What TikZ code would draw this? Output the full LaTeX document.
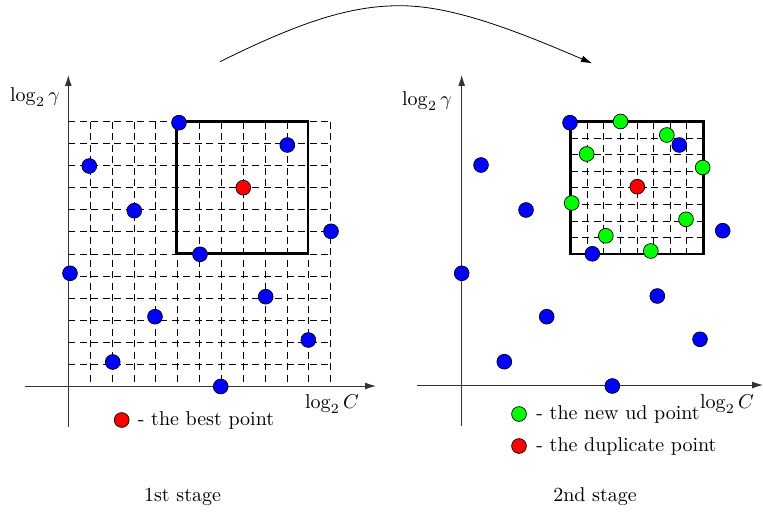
\documentclass[tikz,border=0pt]{standalone}
\usetikzlibrary{arrows.meta}
\begin{document}
\begin{tikzpicture}[x=0.5pt,y=-0.5pt,
  dot/.style={circle,draw=black,line width=0.35pt,minimum size=7.4pt,inner sep=0pt},
  bluedot/.style={dot,fill=blue},
  reddot/.style={dot,fill=red},
  greendot/.style={dot,fill=green},
  gridline/.style={line width=0.38pt,dash pattern=on 3.5pt off 2.25pt},
  axis/.style={line width=0.45pt,black!80,-{Latex[length=5.5pt,width=3.5pt]}},
  frame/.style={line width=1.3pt,line join=miter},
  lbl/.style={inner sep=0pt}]
\useasboundingbox (0,0) rectangle (763,513);

% ---------- first stage: full 12x12 grid ----------
\foreach \i in {1,...,12}
  \draw[gridline] ({68.3+21.87*\i},121.7) -- ({68.3+21.87*\i},386);
\foreach \j in {0,...,11}
  \draw[gridline] (68.3,{121.7+22.03*\j}) -- (330.7,{121.7+22.03*\j});
\draw[frame] (176.7,121.7) rectangle (307.9,253.5);

\coordinate (Lyb) at (68.3,427);
\coordinate (Lyt) at (68.3,75);
\coordinate (Lxl) at (25,386);
\coordinate (Lxr) at (376,386);
\draw[axis] (Lyb) -- (Lyt);
\draw[axis] (Lxl) -- (Lxr);

\node[lbl] (Lgam) at (35,97) {$\log_2\gamma$};
\node[lbl] (LC) at (332,404) {$\log_2 C$};

\node[bluedot] (a1)  at (179,122.7) {};
\node[bluedot] (a2)  at (287.3,145) {};
\node[bluedot] (a3)  at (89.3,166) {};
\node[bluedot] (a4)  at (134.3,210.7) {};
\node[bluedot] (a5)  at (331,231.3) {};
\node[bluedot] (a6)  at (200,254.3) {};
\node[bluedot] (a7)  at (70,273.3) {};
\node[bluedot] (a8)  at (265.7,296.7) {};
\node[bluedot] (a9)  at (155,316.7) {};
\node[bluedot] (a10) at (308.3,340) {};
\node[bluedot] (a11) at (112.7,362) {};
\node[bluedot] (a12) at (220.7,386.5) {};
\node[reddot]  (abest) at (243.3,187.7) {};

\node[reddot] (keyA) at (121.7,420) {};
\node[lbl,anchor=west] (keyAt) at (137.5,420.5) {- the best point};
\node[lbl] (st1) at (182.5,497) {1st stage};

% ---------- second stage: refined grid inside the box ----------
\foreach \k in {1,...,7}
  \draw[gridline] ({570.5+16.6*\k},121.7) -- ({570.5+16.6*\k},254);
\foreach \k in {1,...,7}
  \draw[gridline] (570.5,{121.7+16.54*\k}) -- (703.3,{121.7+16.54*\k});
\draw[frame] (570.5,121.7) rectangle (703.3,254);

\coordinate (Ryb) at (461.7,426);
\coordinate (Ryt) at (461.7,75);
\coordinate (Rxl) at (417,385);
\coordinate (Rxr) at (763,385);
\draw[axis] (Ryb) -- (Ryt);
\draw[axis] (Rxl) -- (Rxr);

\node[lbl] (Rgam) at (427,101) {$\log_2\gamma$};
\node[lbl] (RC) at (727,404) {$\log_2 C$};

\node[greendot] (g1) at (620.5,121.5) {};
\node[greendot] (g2) at (666.8,135) {};
\node[greendot] (g3) at (586.7,154) {};
\node[greendot] (g4) at (702.7,167.5) {};
\node[greendot] (g5) at (571.7,203) {};
\node[greendot] (g6) at (686,219.3) {};
\node[greendot] (g7) at (605.8,235.8) {};
\node[greendot] (g8) at (650.8,251) {};

\node[bluedot] (b1)  at (570,122.7) {};
\node[bluedot] (b2)  at (679.3,145) {};
\node[bluedot] (b3)  at (481,165) {};
\node[bluedot] (b4)  at (526,210) {};
\node[bluedot] (b5)  at (722.7,230.7) {};
\node[bluedot] (b6)  at (592.3,253.8) {};
\node[bluedot] (b7)  at (461.7,273.3) {};
\node[bluedot] (b8)  at (657.3,296) {};
\node[bluedot] (b9)  at (546.7,316.7) {};
\node[bluedot] (b10) at (700,339.3) {};
\node[bluedot] (b11) at (504.3,361.7) {};
\node[bluedot] (b12) at (612.3,386) {};
\node[reddot]  (bdup) at (637.3,186.7) {};

\node[greendot] (keyB) at (519,414) {};
\node[lbl,anchor=west] (keyBt) at (536,414.5) {- the new ud point};
\node[reddot] (keyC) at (519,446) {};
\node[lbl,anchor=west] (keyCt) at (536,446.5) {- the duplicate point};
\node[lbl] (st2) at (595,497) {2nd stage};

% ---------- stage transition ----------
\coordinate (from) at (220,61.7);
\coordinate (top) at (400,5.7);
\coordinate (to) at (592,63.3);
\draw[line width=0.4pt,-{Latex[length=5.5pt,width=3.5pt]}]
  (from) .. controls (300,22) and (350,5.7) .. (top)
         .. controls (450,5.7) and (510,28) .. (to);
\end{tikzpicture}
\end{document}
